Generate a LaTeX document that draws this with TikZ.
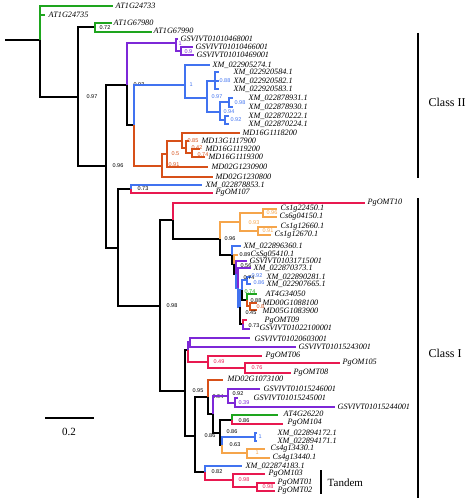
\documentclass[tikz,border=0pt]{standalone}
\usepackage{fontspec}
\setmainfont{Liberation Serif}
\newfontfamily\svfont{Liberation Sans}
\definecolor{cg}{RGB}{30,165,30}
\definecolor{cp}{RGB}{125,40,215}
\definecolor{cb}{RGB}{65,115,240}
\definecolor{co}{RGB}{215,80,25}
\definecolor{cr}{RGB}{232,25,80}
\definecolor{cl}{RGB}{245,165,75}
\newcounter{svc}
\newcommand{\inn}[4]{\coordinate (#2) at (#4); \draw[#3] (#1) |- (#2);}
\newcommand{\tipx}[6]{\coordinate (#2e) at (#4); \draw[#3] (#1) |- (#2e); \node[tiplab] (#2) at (#5) {#6};}
\newcommand{\sv}[3]{\stepcounter{svc}\node[bsv,text=#1] (sv\arabic{svc}) at (#2) {#3};}
\begin{document}
\begin{tikzpicture}[x=1pt,y=-1pt,line width=1.3pt,
  tiplab/.style={font=\itshape\fontsize{8.2}{9}\selectfont, anchor=west, inner sep=0pt},
  bsv/.style={font=\svfont\fontsize{5.5}{6}\selectfont, anchor=west, inner sep=0pt},
  big/.style={font=\fontsize{12}{13}\selectfont, anchor=west, inner sep=0pt}]
\useasboundingbox (0,0) rectangle (474,503);
% root
\coordinate (r0) at (5,40);
\coordinate (n40) at (40,40);
\draw (r0) -- (n40);
\tipx{n40}{t1}{cg}{113,6}{115,6}{AT1G24733}
\tipx{n40}{t2}{cg}{45,15}{48,15}{AT1G24735}
\inn{n40}{n78}{black}{78,97}
\sv{black}{86,97}{0.97}
\inn{n78}{n95}{black}{95,27}
\sv{black}{99,28}{0.72}
\tipx{n95}{t3}{cg}{112,23}{113,23}{AT1G67980}
\tipx{n95}{t4}{cg}{152,32}{153,31}{AT1G67990}
\inn{n78}{n106}{black}{106,166}
\sv{black}{112,166}{0.96}
% class II upper
\inn{n106}{n127}{black}{127,85}
\sv{black}{133,85}{0.93}
\inn{n127}{nP1}{cp}{176,43}
\sv{cp}{178,44}{1}
\tipx{nP1}{tP1}{cp}{178,39}{180,39}{GSVIVT01010468001}
\inn{nP1}{nP2}{cp}{181,51}
\sv{cp}{184,52}{0.9}
\tipx{nP2}{tP2}{cp}{193,47}{195,47}{GSVIVT01010466001}
\tipx{nP2}{tP3}{cp}{194,55}{196,55}{GSVIVT01010469001}
\inn{n127}{n134}{black}{134,125}
% blue
\inn{n134}{B1}{cb}{185,85}
\sv{cb}{189,85}{1}
\tipx{B1}{tB0}{cb}{210,65}{212,65}{XM\_022905274.1}
\inn{B1}{B2}{cb}{207,98}
\sv{cb}{211,97}{0.97}
\inn{B2}{B3}{cb}{215,81}
\sv{cb}{219,81}{0.88}
\tipx{B3}{tB1}{cb}{219,72}{233,72}{XM\_022920584.1}
\tipx{B3}{tB2}{cb}{219,81}{233,81}{XM\_022920582.1}
\tipx{B3}{tB3}{cb}{219,89}{233,89}{XM\_022920583.1}
\inn{B2}{B4}{cb}{220,112}
\sv{cb}{223,112}{0.94}
\inn{B4}{B5}{cb}{229,102}
\sv{cb}{234,103}{0.98}
\tipx{B5}{tB4}{cb}{233,98}{248,98}{XM\_022878931.1}
\tipx{B5}{tB5}{cb}{233,107}{248,107}{XM\_022878930.1}
\inn{B4}{B6}{cb}{225,120}
\sv{cb}{230,120}{0.92}
\tipx{B6}{tB6}{cb}{229,116}{248,116}{XM\_022870222.1}
\tipx{B6}{tB7}{cb}{229,124}{248,124}{XM\_022870224.1}
% orange MD
\inn{n134}{O1}{co}{162,166}
\sv{co}{168,165}{0.91}
\inn{O1}{O2}{co}{167,154}
\sv{co}{171,154}{0.5}
\inn{O2}{O3}{co}{182,141}
\sv{co}{187,141}{0.85}
\inn{O3}{O4}{co}{186,148}
\sv{co}{191,148}{0.42}
\inn{O4}{O5}{co}{192,153}
\sv{co}{197,155}{0.74}
\tipx{O3}{tO1}{co}{240,133}{242,133}{MD16G1118200}
\tipx{O4}{tO2}{co}{189,141}{201,141}{MD13G1117900}
\tipx{O5}{tO3}{co}{200,149}{205,149}{MD16G1119200}
\tipx{O5}{tO4}{co}{205,157}{208,157}{MD16G1119300}
\tipx{O2}{tO5}{co}{208,167}{211,167}{MD02G1230900}
\tipx{O1}{tO6}{co}{213,177}{215,177}{MD02G1230800}
% middle
\inn{n106}{n118}{black}{118,248}
\inn{n118}{n131}{black}{131,189}
\sv{black}{137,189}{0.73}
\tipx{n131}{tM1}{cb}{202,185}{205,185}{XM\_022878853.1}
\tipx{n131}{tM2}{cr}{213,193}{215,193}{PgOM107}
\inn{n118}{n160}{black}{160,306}
\sv{black}{166,306}{0.98}
\inn{n160}{n173}{black}{173,220}
\tipx{n173}{tM3}{cr}{365,203}{367,203}{PgOMT10}
\inn{n173}{C0}{black}{220,239}
\sv{black}{224,239}{0.96}
\inn{C0}{C1}{cl}{240,222}
\sv{cl}{248,223}{0.93}
\inn{C1}{C2}{cl}{263,213}
\sv{cl}{266,213}{0.96}
\tipx{C2}{tC1}{cl}{277,209}{280,209}{Cs1g22450.1}
\tipx{C2}{tC2}{cl}{277,217}{279,217}{Cs6g04150.1}
\inn{C1}{C3}{cl}{258,231}
\sv{cl}{262,231}{0.91}
\tipx{C3}{tC3}{cl}{277,227}{280,227}{Cs1g12660.1}
\tipx{C3}{tC4}{cl}{271,235}{274,235}{Cs1g12670.1}
% D group
\inn{C0}{D0}{black}{232,255}
\tipx{D0}{tD1}{cb}{241,246}{243,246}{XM\_022896360.1}
\inn{D0}{K}{black}{234,264}
\tipx{K}{tD2}{cl}{238,255}{250,255}{CsSg05410.1}
\sv{black}{239,255}{0.89}
\inn{K}{J}{black}{236,274}
\tipx{J}{tD3}{cp}{247,261}{249,261}{GSVIVT01031715001}
\inn{J}{I}{cb}{238,288}
\tipx{I}{tD4}{cp}{251,268}{253,268}{XM\_022870373.1}
\sv{black}{240,266}{0.56}
\inn{I}{H2}{cb}{240,307}
\inn{H2}{H}{cb}{242,290}
\inn{H}{Bp}{cb}{247,280}
\tipx{Bp}{tD5}{cb}{251,277}{266,277}{XM\_022890281.1}
\tipx{Bp}{tD6}{cb}{251,284}{266,284}{XM\_022907665.1}
\sv{black}{243,278}{0.74}
\sv{cb}{251,276}{0.92}
\sv{cb}{253,283}{0.86}
\inn{H}{G}{black}{247,300}
\tipx{G}{tD7}{cg}{257,294}{265,294}{AT4G34050}
\sv{cg}{244,292}{0.74}
\inn{G}{M}{co}{250,306}
\tipx{M}{tD8}{co}{257,303}{262,303}{MD00G1088100}
\tipx{M}{tD9}{co}{257,310}{262,311}{MD05G1083900}
\sv{black}{250,301}{0.88}
\sv{co}{256,307}{0.8}
\sv{black}{245,313}{0.45}
\inn{H2}{Q}{black}{243,324}
\tipx{Q}{tD10}{cr}{247,320}{264,321}{PgOMT09}
\tipx{Q}{tD11}{cp}{250,329}{259,328}{GSVIVT01022100001}
\sv{black}{248,326}{0.73}
% lower class I
\inn{n160}{N185}{black}{185,391}
\sv{black}{192,391}{0.95}
\inn{N185}{N188}{black}{188,350}
\inn{N188}{NP}{cp}{190,342}
\tipx{NP}{tL1}{cp}{250,338}{254,339}{GSVIVT01020603001}
\tipx{NP}{tL2}{cp}{296,347}{298,347}{GSVIVT01015243001}
\inn{N188}{NR}{cr}{208,362}
\sv{cr}{213,362}{0.49}
\tipx{NR}{tL3}{cr}{262,356}{265,356}{PgOMT06}
\inn{NR}{NR2}{cr}{245,368}
\sv{cr}{251,368}{0.76}
\tipx{NR2}{tL4}{cr}{340,363}{342,363}{PgOM105}
\tipx{NR2}{tL5}{cr}{291,373}{293,373}{PgOMT08}
\inn{N185}{N195}{black}{195,436}
\sv{black}{204,436}{0.86}
\inn{N195}{N208}{black}{208,397}
\sv{black}{212,397}{0.94}
\tipx{N208}{tL6}{co}{223,380}{227,379}{MD02G1073100}
\inn{N208}{N213}{black}{213,414}
\inn{N213}{N228}{cp}{228,396}
\sv{black}{232,394}{0.92}
\tipx{N228}{tL7}{cp}{260,389}{263,389}{GSVIVT01015246001}
\inn{N228}{N235}{cp}{235,403}
\sv{cp}{238,403}{0.39}
\tipx{N235}{tL8}{cp}{238,398}{253,398}{GSVIVT01015245001}
\tipx{N235}{tL9}{cp}{335,407}{337,407}{GSVIVT01015244001}
\inn{N213}{N220}{black}{220,433}
\sv{black}{226,432}{0.86}
\inn{N220}{N232}{black}{232,420}
\sv{black}{238,421}{0.86}
\tipx{N232}{tL10}{cg}{278,415}{283,414}{AT4G26220}
\tipx{N232}{tL11}{cr}{283,424}{287,423}{PgOM104}
\inn{N220}{N222}{black}{222,445}
\sv{black}{229,445}{0.63}
\inn{N222}{N255}{cb}{255,437}
\sv{cb}{258,437}{1}
\tipx{N255}{tL12}{cb}{257,433}{277,433}{XM\_022894172.1}
\tipx{N255}{tL13}{cb}{257,441}{277,441}{XM\_022894171.1}
\inn{N222}{N247}{cl}{247,453}
\sv{cl}{255,453}{1}
\tipx{N247}{tL14}{cl}{265,449}{270,449}{Cs4g13430.1}
\tipx{N247}{tL15}{cl}{270,458}{272,458}{Cs4g13440.1}
\inn{N195}{N205}{black}{205,472}
\sv{black}{211,472}{0.82}
\tipx{N205}{tL16}{cb}{242,466}{245,466}{XM\_022874183.1}
\inn{N205}{N233}{cr}{233,480}
\sv{cr}{238,480}{0.98}
\tipx{N233}{tL17}{cr}{265,474}{268,474}{PgOM103}
\inn{N233}{N257}{cr}{257,487}
\sv{cr}{262,487}{0.98}
\tipx{N257}{tL18}{cr}{275,483}{277,483}{PgOMT01}
\tipx{N257}{tL19}{cr}{275,491}{277,491}{PgOMT02}
% tandem
\coordinate (tan1) at (321,470);
\coordinate (tan2) at (321,494);
\draw (tan1) -- (tan2);
\node[big,font=\fontsize{11}{12}\selectfont] (tand) at (327,483) {Tandem};
% class bars
\coordinate (c2a) at (418,33);
\coordinate (c2b) at (418,178);
\draw (c2a) -- (c2b);
\node[big] (cls2) at (428,102) {Class II};
\coordinate (c1a) at (418,198);
\coordinate (c1b) at (418,498);
\draw (c1a) -- (c1b);
\node[big] (cls1) at (428,353) {Class I};
% scale bar
\coordinate (sb1) at (45,418);
\coordinate (sb2) at (94,418);
\draw (sb1) -- (sb2);
\node[font=\fontsize{11}{12}\selectfont, inner sep=0pt] (sbl) at (69,432) {0.2};
\end{tikzpicture}
\end{document}
